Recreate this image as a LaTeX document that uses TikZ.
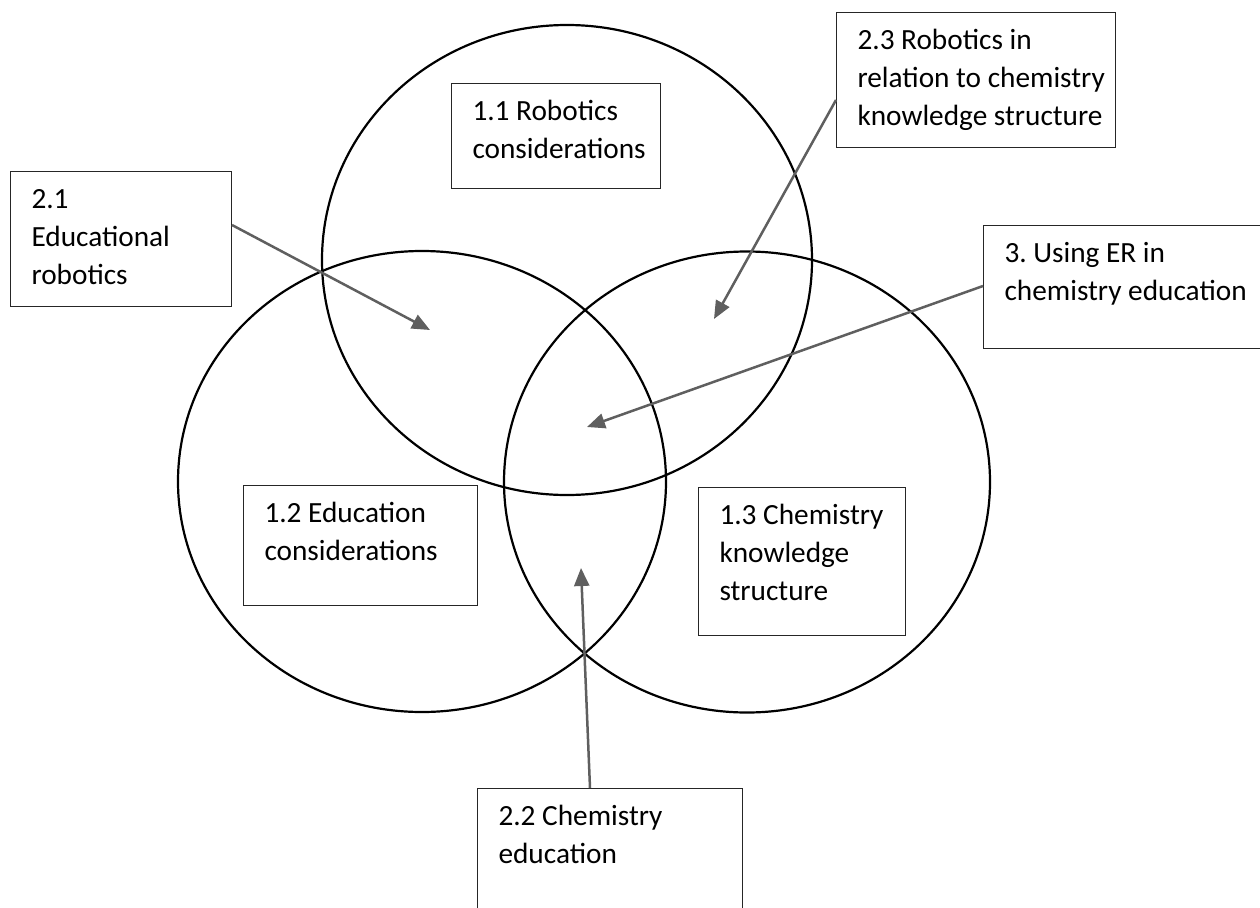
\documentclass[tikz,border=0pt]{standalone}
\usepackage{fontspec}
\setmainfont{Carlito}
\usepackage{xcolor}
\definecolor{cLine}{HTML}{000000}
\definecolor{cFrame}{HTML}{262626}
\definecolor{cArrow}{HTML}{5F5F5F}
\usepackage{tikz}
\usetikzlibrary{arrows.meta,calc}
\frenchspacing
\newcommand{\boxtext}[3]{\parbox[t][#2][t]{#1}{\raggedright\leftskip=21pt
  \hyphenpenalty=10000\rule{0pt}{37pt}#3}}
\tikzset{
  node-box/.style={draw=cFrame,line width=1pt,fill=white,anchor=north west,
    inner sep=0pt,font=\fontsize{29.3}{38}\selectfont},
  ring/.style={draw=cLine,line width=2.2pt},
  arrow/.style={-{Triangle[length=18pt,width=15pt]},line width=2.5pt,draw=cArrow},
}

\begin{document}
\begin{tikzpicture}[x=1pt,y=-1pt]
  \useasboundingbox (0,0) rectangle (1260,907);
  \clip (0,0) rectangle (1260,907);
  % the three sets
  \draw[ring] (567,260) ellipse [x radius=245pt,y radius=235pt];
  \draw[ring] (422,481.5) ellipse [x radius=244pt,y radius=230.5pt];
  \draw[ring] (747,482) ellipse [x radius=243pt,y radius=230.5pt];
  % labels
  \node[node-box] (b11) at (451,83)  {\boxtext{209pt}{105pt}{1.1 Robotics\\considerations}};
  \node[node-box] (b21) at (10,171)  {\boxtext{221pt}{135pt}{2.1\\Educational\\robotics}};
  \node[node-box] (b23) at (836,12)  {\boxtext{279pt}{135pt}{2.3 Robotics in\\\mbox{relation to chemistry}\\\mbox{knowledge structure}}};
  \node[node-box] (b3)  at (983,225) {\boxtext{290pt}{123pt}{3. Using ER in\\\mbox{chemistry education}}};
  \node[node-box] (b12) at (243,485) {\boxtext{234pt}{120pt}{1.2 Education\\considerations}};
  \node[node-box] (b13) at (698,487) {\boxtext{207pt}{148pt}{1.3 Chemistry\\knowledge\\structure}};
  \node[node-box] (b22) at (477,788) {\boxtext{265pt}{140pt}{2.2 Chemistry\\education}};
  % arrow targets
  \coordinate (t21) at (430,330);
  \coordinate (t23) at (714,319);
  \coordinate (t3)  at (587,427);
  \coordinate (t22) at (581,568);
  \draw[arrow] ([yshift=-54pt]b21.north east) -- (t21);
  \draw[arrow] ([yshift=-88pt]b23.north west) -- (t23);
  \draw[arrow] ([yshift=-61pt]b3.north west) -- (t3);
  \draw[arrow] ([xshift=113pt]b22.north west) -- (t22);
\end{tikzpicture}
\end{document}
